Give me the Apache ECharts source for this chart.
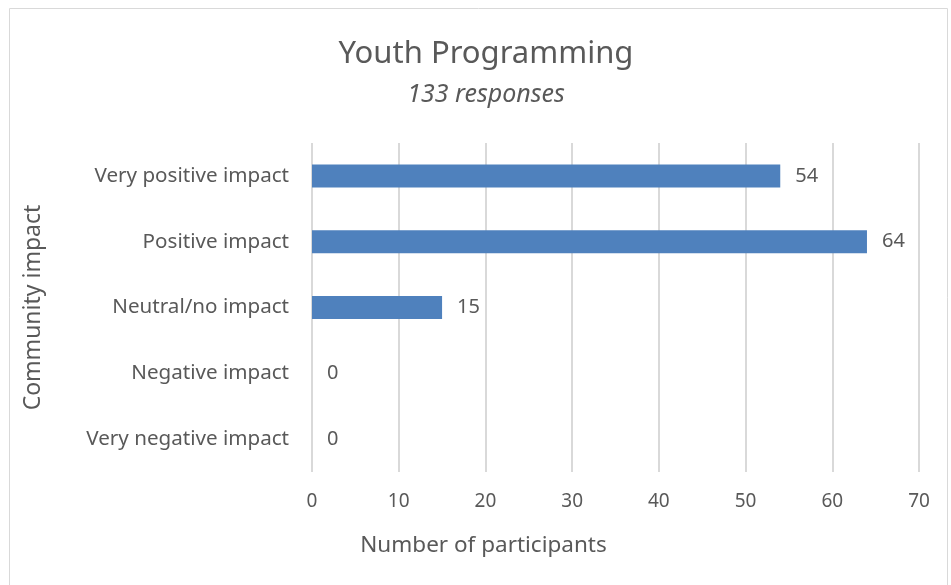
<!DOCTYPE html>
<html><head><meta charset="utf-8">
<script src="https://cdn.jsdelivr.net/npm/echarts@6/dist/echarts.min.js"></script>
<style>html,body{margin:0;padding:0;background:#fff}#c{width:951px;height:585px}</style>
</head><body><div id="c"></div>
<script>
const categories = ["Very negative impact","Negative impact","Neutral/no impact","Positive impact","Very positive impact"];
const values = [0,0,15,64,54];
const xTicks = [0,10,20,30,40,50,60,70];
const titleText = "Youth Programming";
const subtitleText = "133 responses";
const xName = "Number of participants";
const yName = "Community impact";

const FONT = "Noto Sans";
const TXT = "#595959";
const chart = echarts.init(document.getElementById('c'));
chart.setOption({
  animation:false,
  textStyle:{fontFamily:FONT},
  graphic:[{type:'rect',shape:{x:9.5,y:8.5,width:938,height:590},style:{fill:'none',stroke:'#d9d9d9',lineWidth:1},silent:true}],
  title:{text:titleText,subtext:subtitleText,left:481,textAlign:'center',top:34,itemGap:12,
    textStyle:{fontFamily:FONT,fontSize:31,fontWeight:'normal',color:TXT},
    subtextStyle:{fontFamily:FONT,fontSize:25,fontStyle:'italic',color:TXT}},
  grid:{left:312,right:32,top:143,bottom:113,containLabel:false},
  xAxis:{type:'value',min:xTicks[0],max:xTicks[xTicks.length-1],interval:10,
    name:xName,nameLocation:'middle',nameGap:62,
    nameTextStyle:{fontFamily:FONT,fontSize:22.5,color:TXT,padding:[0,264,0,0]},
    axisLine:{show:false},axisTick:{show:false},
    axisLabel:{fontFamily:FONT,fontSize:19,color:TXT,margin:20},
    splitLine:{lineStyle:{color:'#d9d9d9',width:2}}},
  yAxis:{type:'category',data:categories,
    name:yName,nameLocation:'middle',nameGap:267,nameRotate:90,
    nameTextStyle:{fontFamily:FONT,fontSize:23,color:TXT},
    axisLine:{show:false},axisTick:{show:false},
    axisLabel:{fontFamily:FONT,fontSize:20.6,color:TXT,margin:23}},
  series:[{type:'bar',data:values,barWidth:23,
    itemStyle:{color:'#4f81bd'},
    label:{show:true,position:'right',distance:15,fontFamily:FONT,fontSize:20,color:TXT}}]
});
</script></body></html>
